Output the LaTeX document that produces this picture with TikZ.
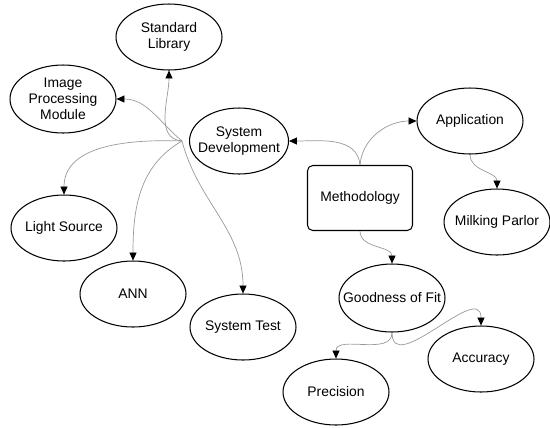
\documentclass[tikz,border=0pt]{standalone}
\usepackage{fontspec}
\setmainfont{Liberation Sans}
\usepackage{tikz}
\usetikzlibrary{arrows.meta, shapes.geometric}

\begin{document}
\begin{tikzpicture}[x=0.02cm, y=-0.02cm,
	font=\fontsize{7.9}{9.1}\selectfont,
	bubble/.style={draw, ellipse, line width=0.6pt, align=center, inner sep=-8pt, minimum width=2.12cm, minimum height=1.32cm},
	link/.style={draw=gray!80, line width=0.4pt, -{Triangle[black, length=4.5pt, width=4pt]}}]
	\useasboundingbox (0,0) rectangle (550,427);

	% Central box
	\node (method) at (360,198) [draw, line width=0.6pt, rounded corners=3pt, minimum width=2.1cm, minimum height=1.3cm] {Methodology};

	% System development branch
	\node (sysDev) at (239,141) [bubble, minimum width=1.98cm] {System\\Development};
	\node (stdLib) at (169,37) [bubble] {Standard\\Library};
	\node (imgProc) at (63,99) [bubble, minimum height=1.36cm] {Image\\Processing\\Module};
	\node (light) at (64,228) [bubble] {Light Source};
	\node (ann) at (133,294) [bubble] {ANN};
	\node (sysTest) at (243,327) [bubble] {System Test};

	% Application branch
	\node (app) at (470,121) [bubble] {Application};
	\node (milking) at (497,222) [bubble] {Milking Parlor};

	% Goodness of fit branch
	\node (fit) at (392,298) [bubble, minimum height=1.36cm] {Goodness of Fit};
	\node (accuracy) at (481,359) [bubble] {Accuracy};
	\node (precision) at (336,392) [bubble] {Precision};

	% Links
	\draw[link] (method.north) to[out=95, in=0] (sysDev.east);
	\draw[link] (method.north) to[out=85, in=180] (app.west);
	\draw[link] (app.south) to[out=-90, in=90] (milking.north);
	\draw[link] (method.south) to[out=-90, in=90] (fit.north);
	\draw[link] (fit.south) to[out=-90, in=90] (precision.north);
	\draw[link] (fit.south) to[out=-90, in=90, looseness=1.3] (accuracy.north);

	\draw[link] ([xshift=-4pt]sysDev.west) to[out=175, in=-90] (stdLib.south);
	\draw[link] ([xshift=-4pt]sysDev.west) to[out=140, in=0] (imgProc.east);
	\draw[link] ([xshift=-4pt]sysDev.west) to[out=178, in=90] (light.north);
	\draw[link] ([xshift=-4pt]sysDev.west) to[out=210, in=90] (ann.north);
	\draw[link] ([xshift=-4pt]sysDev.west) to[out=-75, in=90] (sysTest.north);
\end{tikzpicture}
\end{document}
